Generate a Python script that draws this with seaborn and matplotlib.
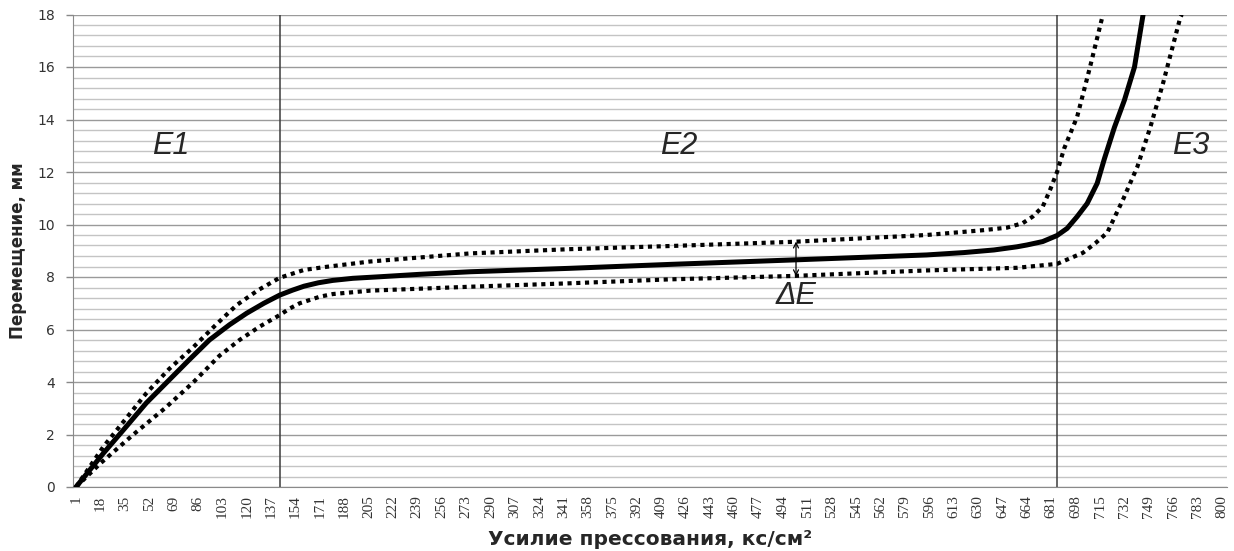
import numpy as np
import pandas as pd
import matplotlib
matplotlib.use("Agg")
import matplotlib.pyplot as plt
from matplotlib.ticker import MultipleLocator
import seaborn as sns

# values
mid_x = [1, 20, 36, 50, 66, 80, 94, 108, 120, 132, 143, 152, 160, 170, 180, 194, 213,
         240, 276, 345, 415, 501, 594, 620, 641, 657, 664, 675, 685, 692, 699, 706,
         713, 718, 725, 732, 739, 745]
mid_y = [0, 1.28, 2.3, 3.2, 4.08, 4.85, 5.6, 6.18, 6.62, 7.0, 7.31, 7.5, 7.65, 7.78,
         7.87, 7.95, 8.01, 8.1, 8.2, 8.33, 8.48, 8.65, 8.84, 8.93, 9.03, 9.15, 9.22,
         9.35, 9.58, 9.85, 10.3, 10.8, 11.57, 12.5, 13.7, 14.74, 16.0, 18.0]

upper_x = [1, 20, 35, 50, 66, 83, 98, 113, 128, 143, 160, 176, 206, 276, 345, 415,
           501, 594, 633, 650, 661, 668, 675, 680, 685, 690, 699, 708, 717]
upper_y = [0, 1.53, 2.55, 3.57, 4.5, 5.34, 6.15, 6.93, 7.5, 7.97, 8.27, 8.39, 8.59,
           8.9, 9.06, 9.18, 9.34, 9.6, 9.78, 9.88, 10.05, 10.3, 10.68, 11.3, 12.0,
           12.9, 14.1, 16.0, 18.0]

lower_x = [1, 18, 41, 63, 83, 101, 115, 129, 143, 150, 157, 171, 180, 206, 276, 345,
           415, 501, 594, 657, 685, 703, 712, 720, 731, 741, 750, 759, 771, 772]
lower_y = [0, 0.9, 2.0, 3.0, 4.0, 5.0, 5.6, 6.11, 6.55, 6.8, 7.0, 7.25, 7.35, 7.48,
           7.63, 7.76, 7.91, 8.04, 8.25, 8.35, 8.5, 8.92, 9.3, 9.69, 10.95, 12.2, 13.7,
           15.4, 17.9, 18.0]

zone_bounds = [143, 685]
zone_names = ["E1", "E2", "E3"]
zone_label_x = [67, 421, 778]
delta_x = 503
delta_top, delta_bottom = 9.35, 8.03

x_ticks = list(range(1, 801, 17))

sns.set_style("white")
plt.rcParams["font.family"] = ["DejaVu Sans"]

fig = plt.figure(figsize=(12.34, 5.51), dpi=100)
ax = fig.add_axes([73 / 1234, 1 - 487 / 551, 1154 / 1234, 472.5 / 551])

# grid first so it stays behind the curves
ax.yaxis.set_major_locator(MultipleLocator(2))
ax.yaxis.set_minor_locator(MultipleLocator(0.4))
ax.grid(which="minor", axis="y", color="#c4c4c4", lw=1.0)
ax.grid(which="major", axis="y", color="#9a9a9a", lw=1.0)
ax.set_axisbelow(True)

for xb in zone_bounds:
    ax.axvline(xb, color="#3c3c3c", lw=1.1, zorder=2)

sns.lineplot(x=upper_x, y=upper_y, ax=ax, color="black", lw=3.0,
             linestyle=(0, (1, 1.1)), dash_capstyle="butt", zorder=3)
sns.lineplot(x=lower_x, y=lower_y, ax=ax, color="black", lw=3.0,
             linestyle=(0, (1, 1.1)), dash_capstyle="butt", zorder=3)
sns.lineplot(x=mid_x, y=mid_y, ax=ax, color="black", lw=3.6, zorder=4)

ax.annotate("", xy=(delta_x, delta_top), xytext=(delta_x, delta_bottom),
            arrowprops=dict(arrowstyle="<->", lw=0.9, color="black",
                            mutation_scale=9, shrinkA=0, shrinkB=0), zorder=5)

label_font = dict(family="Liberation Sans", style="italic", fontsize=22)
for name, lx in zip(zone_names, zone_label_x):
    ax.text(lx, 13.0, name, ha="center", va="center", **label_font)
ax.text(delta_x, 7.28, "ΔE", ha="center", va="center", **label_font)

ax.set_xlim(-1.1, 803.5)
ax.set_ylim(0, 18)
ax.set_xticks(x_ticks)
ax.set_xticklabels([str(t) for t in x_ticks], rotation=90, family="Liberation Serif",
                   fontsize=11, color="#333333")
ax.tick_params(axis="x", length=0, pad=6)
ax.tick_params(axis="y", which="major", length=5, width=1, color="#888888",
               labelsize=10, labelcolor="#333333", pad=8, left=True)
ax.tick_params(axis="y", which="minor", length=0)

for side in ["top", "right"]:
    ax.spines[side].set_visible(False)
ax.spines["left"].set_color("#8a8a8a")
ax.spines["bottom"].set_color("#8a8a8a")

ax.set_xlabel("Усилие прессования, кс/см²", fontsize=14.5, fontweight="bold")
ax.set_ylabel("Перемещение, мм", fontsize=12, fontweight="bold")
ax.xaxis.set_label_coords(0.5, -0.112)
ax.xaxis.label.set_va("center")
ax.yaxis.set_label_coords(-0.0477, 0.5)
ax.yaxis.label.set_va("center")

fig.savefig("out.png", dpi=100)
